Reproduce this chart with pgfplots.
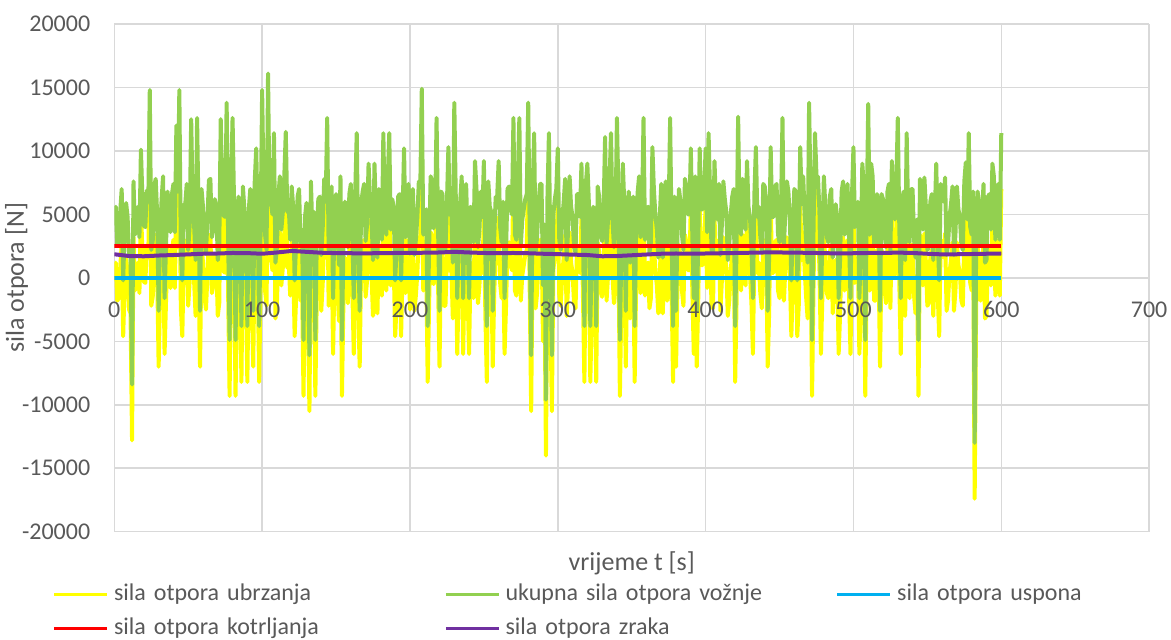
\documentclass[border=0pt]{standalone}
\usepackage{pgfplots}
\usepackage{pgfplotstable}
\pgfplotsset{compat=1.18}
\usepackage{fontspec}
\setmainfont{Carlito}

\definecolor{cUbrz}{HTML}{FFFF00}
\definecolor{cUkup}{HTML}{92D050}
\definecolor{cUspon}{HTML}{00B0F0}
\definecolor{cKotr}{HTML}{FF0000}
\definecolor{cZrak}{HTML}{7030A0}
\definecolor{gridgray}{HTML}{D9D9D9}
\definecolor{labelgray}{HTML}{595959}

% tick labels above the plotted lines, grid below them
\pgfplotsset{
    layers/labelsontop/.define layer set={
        axis background,axis grid,axis ticks,axis lines,main,
        axis tick labels,axis descriptions,axis foreground
    }{/pgfplots/layers/standard},
}

% t, sila otpora ubrzanja (a), ukupna sila otpora voznje (u)
\pgfplotstableread{
t a u
0 0 4400
1 1200 5600
2 -1800 2600
3 -1600 2800
4 800 5200
5 2600 7000
6 -4600 -200
7 -600 3800
8 1500 5900
9 400 4800
10 -2500 1900
11 -2800 1600
12 -12800 -8400
13 3200 7600
14 -1000 3400
15 800 5200
16 1200 5600
17 -1200 3200
18 5700 10100
19 2000 6400
20 -300 4100
21 -400 4000
22 2500 6900
23 1600 6000
24 10400 14800
25 -2200 2200
26 -1500 2900
27 2800 7200
28 3400 7800
29 600 5000
30 -7000 -2600
31 -1000 3400
32 1800 6200
33 3600 8000
34 -6000 -1600
35 -1800 2600
36 2400 6800
37 1000 5400
38 -800 3600
39 2200 6600
40 3000 7400
41 -800 3600
42 7600 12000
43 2400 6800
44 10400 14800
45 -2400 2000
46 -4600 -200
47 1400 5800
48 1400 5800
49 3000 7400
50 -2200 2200
51 -200 4200
52 8100 12500
53 1800 6200
54 -300 4100
55 -3000 1400
56 8200 12600
57 600 5000
58 -7000 -2600
59 2600 7000
60 1200 5600
61 -1400 3000
62 -2500 1900
63 200 4600
64 3300 7700
65 3400 7800
66 -1200 3200
67 -600 3800
68 1800 6200
69 1200 5600
70 -3000 1400
71 -2000 2400
72 8100 12500
73 2200 6600
74 500 4900
75 400 4800
76 9400 13800
77 -1200 3200
78 -9300 -4900
79 3000 7400
80 8200 12600
81 1600 6000
82 -9300 -4900
83 -2600 1800
84 2000 6400
85 400 4800
86 -8200 -3800
87 2800 7200
88 1000 5400
89 -1000 3400
90 -8200 -3800
91 1000 5400
92 2600 7000
93 -1800 2600
94 -7000 -2600
95 3200 7600
96 5800 10200
97 200 4600
98 -8200 -3800
99 -400 4000
100 10400 14800
101 2400 6800
102 -1000 3400
103 -2200 2200
104 11700 16100
105 1400 5800
106 1500 5900
107 600 5000
108 7000 11400
109 -3200 1200
110 -2000 2400
111 2000 6400
112 3600 8000
113 -600 3800
114 800 5200
115 3600 8000
116 7100 11500
117 800 5200
118 1200 5600
119 -1400 3000
120 2800 7200
121 1200 5600
122 -4600 -200
123 -1600 2800
124 2000 6400
125 2600 7000
126 -1800 2600
127 -600 3800
128 -9300 -4900
129 400 4800
130 1500 5900
131 -2800 1600
132 -10500 -6100
133 3200 7600
134 -800 3600
135 800 5200
136 -9300 -4900
137 -1200 3200
138 1800 6200
139 2000 6400
140 -2600 1800
141 -400 4000
142 3400 7800
143 1600 6000
144 8200 12600
145 -2200 2200
146 -1200 3200
147 2800 7200
148 -6000 -1600
149 600 5000
150 2200 6600
151 -1000 3400
152 -3400 1000
153 3600 8000
154 -9300 -4900
155 -1800 2600
156 1600 6000
157 1000 5400
158 -2000 2400
159 2200 6600
160 3000 7400
161 -800 3600
162 -6000 -1600
163 2400 6800
164 7000 11400
165 -2400 2000
166 -7000 -2600
167 1400 5800
168 2400 6800
169 3000 7400
170 -1500 2900
171 -200 4200
172 4600 9000
173 1800 6200
174 300 4700
175 -3000 1400
176 4600 9000
177 600 5000
178 -2800 1600
179 2600 7000
180 1400 5800
181 -1400 3000
182 7000 11400
183 200 4600
184 -1000 3400
185 3400 7800
186 7000 11400
187 -600 3800
188 1800 6200
189 1200 5600
190 -4600 -200
191 -2000 2400
192 2000 6400
193 2200 6600
194 -4600 -200
195 400 4800
196 5800 10200
197 -1200 3200
198 600 5000
199 3000 7400
200 -2500 1900
201 1600 6000
202 2600 7000
203 -2600 1800
204 -1400 3000
205 400 4800
206 3200 7600
207 2800 7200
208 10500 14900
209 -1000 3400
210 400 4800
211 1000 5400
212 -8200 -3800
213 -1800 2600
214 3600 8000
215 3200 7600
216 -500 3900
217 200 4600
218 8200 12600
219 -400 4000
220 -7000 -2600
221 2400 6800
222 2200 6600
223 -2200 2200
224 -2200 2200
225 1400 5800
226 5900 10300
227 600 5000
228 800 5200
229 -3200 1200
230 9400 13800
231 2000 6400
232 -6000 -1600
233 -600 3800
234 1600 6000
235 3600 8000
236 -6000 -1600
237 800 5200
238 3000 7400
239 -1400 3000
240 -6000 -1600
241 1200 5600
242 1000 5400
243 -1600 2800
244 4800 9200
245 2600 7000
246 -2000 2400
247 -600 3800
248 2400 6800
249 400 4800
250 4800 9200
251 -2800 1600
252 -8200 -3800
253 3200 7600
254 1200 5600
255 800 5200
256 -7000 -2600
257 -1200 3200
258 2000 6400
259 2000 6400
260 4800 9200
261 -400 4000
262 -1600 2800
263 1600 6000
264 -6000 -1600
265 -2200 2200
266 2600 7000
267 2800 7200
268 1000 5400
269 600 5000
270 8200 12600
271 -1000 3400
272 -1400 3000
273 3600 8000
274 8200 12600
275 -1800 2600
276 200 4600
277 1000 5400
278 1800 6200
279 2200 6600
280 9400 13800
281 -800 3600
282 -10500 -6100
283 2400 6800
284 7000 11400
285 -2400 2000
286 -1200 3200
287 1400 5800
288 3000 7400
289 3000 7400
290 -5000 -600
291 -200 4200
292 -14000 -9600
293 1800 6200
294 7000 11400
295 -3000 1400
296 -10500 -6100
297 600 5000
298 1800 6200
299 2600 7000
300 5800 10200
301 -1400 3000
302 -2200 2200
303 200 4600
304 1600 6000
305 3400 7800
306 -3000 1400
307 -600 3800
308 3600 8000
309 1200 5600
310 400 4800
311 -2000 2400
312 -2400 2000
313 2200 6600
314 2200 6600
315 400 4800
316 4600 9000
317 -1200 3200
318 -8200 -3800
319 3000 7400
320 4600 9000
321 1600 6000
322 -8200 -3800
323 -2600 1800
324 1200 5600
325 400 4800
326 -8200 -3800
327 2800 7200
328 2000 6400
329 -1000 3400
330 -1500 2900
331 1000 5400
332 6700 11100
333 -1800 2600
334 200 4600
335 3200 7600
336 7000 11400
337 200 4600
338 -2000 2400
339 -400 4000
340 8200 12600
341 2400 6800
342 -9300 -4900
343 -2200 2200
344 4600 9000
345 1400 5800
346 -7000 -2600
347 600 5000
348 2400 6800
349 -3200 1200
350 -800 3600
351 2000 6400
352 -8200 -3800
353 -600 3800
354 2300 6700
355 3600 8000
356 -1200 3200
357 800 5200
358 8200 12600
359 -1400 3000
360 1000 5400
361 1200 5600
362 -2400 2000
363 -1600 2800
364 5900 10300
365 2600 7000
366 600 5000
367 -600 3800
368 -2800 1600
369 400 4800
370 3000 7400
371 -2800 1600
372 800 5200
373 3200 7600
374 -1800 2600
375 800 5200
376 8200 12600
377 -1200 3200
378 -8200 -3800
379 2000 6400
380 -7000 -2600
381 -400 4000
382 2600 7000
383 1600 6000
384 -1000 3400
385 -2200 2200
386 3400 7800
387 2800 7200
388 600 5000
389 600 5000
390 5800 10200
391 -1000 3400
392 -6000 -1600
393 3600 8000
394 -7000 -2600
395 -1800 2600
396 5800 10200
397 1000 5400
398 1000 5400
399 2200 6600
400 5800 10200
401 -800 3600
402 7000 11400
403 2400 6800
404 -2200 2200
405 -2400 2000
406 4800 9200
407 1400 5800
408 200 4600
409 3000 7400
410 -2600 1800
411 -200 4200
412 3200 7600
413 1800 6200
414 800 5200
415 -3000 1400
416 -1800 2600
417 600 5000
418 2000 6400
419 2600 7000
420 -8200 -3800
421 -1400 3000
422 8300 12700
423 200 4600
424 -1000 3400
425 3400 7800
426 2600 7000
427 -600 3800
428 4800 9200
429 1200 5600
430 400 4800
431 -2000 2400
432 -6000 -1600
433 2200 6600
434 5900 10300
435 400 4800
436 1200 5600
437 -1200 3200
438 -2400 2000
439 3000 7400
440 2800 7200
441 1600 6000
442 -7000 -2600
443 -2600 1800
444 5900 10300
445 400 4800
446 400 4800
447 2800 7200
448 3000 7400
449 -1000 3400
450 -1600 2800
451 1000 5400
452 8200 12600
453 -1800 2600
454 1000 5400
455 3200 7600
456 2400 6800
457 200 4600
458 -4600 -200
459 -400 4000
460 2600 7000
461 2400 6800
462 -4600 -200
463 -2200 2200
464 5900 10300
465 1400 5800
466 3600 8000
467 600 5000
468 -1500 2900
469 -3200 1200
470 9400 13800
471 2000 6400
472 -9300 -4900
473 -600 3800
474 7000 11400
475 3600 8000
476 3600 8000
477 800 5200
478 -6000 -1600
479 -1400 3000
480 3600 8000
481 1200 5600
482 -1200 3200
483 -1600 2800
484 2000 6400
485 2600 7000
486 -2800 1600
487 -600 3800
488 1400 5800
489 400 4800
490 -6000 -1600
491 -2800 1600
492 2400 6800
493 3200 7600
494 -1000 3400
495 800 5200
496 3000 7400
497 -1200 3200
498 -6000 -1600
499 2000 6400
500 5900 10300
501 -400 4000
502 400 4800
503 1600 6000
504 -6000 -1600
505 -2200 2200
506 4600 9000
507 2800 7200
508 -9300 -4900
509 600 5000
510 9300 13700
511 -1000 3400
512 4600 9000
513 3600 8000
514 -1800 2600
515 -1800 2600
516 2200 6600
517 1000 5400
518 -7000 -2600
519 2200 6600
520 1800 6200
521 -800 3600
522 -2000 2400
523 2400 6800
524 3000 7400
525 -2400 2000
526 4800 9200
527 1400 5800
528 200 4600
529 3000 7400
530 8200 12600
531 -200 4200
532 -6000 -1600
533 1800 6200
534 2400 6800
535 -3000 1400
536 7000 11400
537 600 5000
538 -1600 2800
539 2600 7000
540 2600 7000
541 -1400 3000
542 -2800 1600
543 200 4600
544 -9300 -4900
545 3400 7800
546 1800 6200
547 -600 3800
548 3500 7900
549 1200 5600
550 -2200 2200
551 -2000 2400
552 1600 6000
553 2200 6600
554 -3000 1400
555 400 4800
556 4600 9000
557 -1200 3200
558 -4600 -200
559 3000 7400
560 2000 6400
561 1600 6000
562 3500 7900
563 -2600 1800
564 -1800 2600
565 400 4800
566 1400 5800
567 2800 7200
568 -2600 1800
569 -1000 3400
570 2800 7200
571 1000 5400
572 400 4800
573 -1800 2600
574 -2200 2200
575 3200 7600
576 4700 9100
577 200 4600
578 7000 11400
579 -400 4000
580 -1000 3400
581 2400 6800
582 -17400 -13000
583 -2200 2200
584 2400 6800
585 1400 5800
586 -1800 2600
587 600 5000
588 3000 7400
589 -3200 1200
590 -3000 1400
591 2000 6400
592 2200 6600
593 -600 3800
594 4600 9000
595 3600 8000
596 -1400 3000
597 800 5200
598 3000 7400
599 -1400 3000
600 7000 11400
}\voznja

% sila otpora zraka
\pgfplotstableread{
t z
0 1860
10 1720
20 1700
30 1760
40 1800
50 1850
60 1900
70 1920
80 1960
90 1950
100 1900
110 2000
120 2120
130 2050
140 1980
150 1950
160 1940
170 1930
180 1950
190 1960
200 1970
210 1980
220 2000
230 2050
240 2000
250 1960
260 1950
270 1960
280 1940
290 1900
300 1870
310 1830
320 1800
330 1700
340 1720
350 1780
360 1840
370 1900
380 1920
390 1900
400 1920
410 1940
420 1960
430 1980
440 2000
450 2000
460 1990
470 1970
480 1950
490 1920
500 1940
510 1960
520 1960
530 1990
540 1960
550 1900
560 1850
570 1860
580 1880
590 1900
600 1920
}\zrak

\begin{document}
\begin{tikzpicture}
\begin{axis}[
    at={(0,0)}, anchor=south west,
    set layers=labelsontop,
    scale only axis,
    width=517.4pt, height=253.85pt,
    xmin=0, xmax=700, ymin=-20000, ymax=20000,
    scaled ticks=false,
    xtick={0,100,200,300,400,500,600,700},
    xticklabels={0,100,200,300,400,500,600,700},
    ytick={-20000,-15000,-10000,-5000,0,5000,10000,15000,20000},
    yticklabels={-20000,-15000,-10000,-5000,0,5000,10000,15000,20000},
    grid=major,
    grid style={draw=gridgray, line width=0.75pt},
    axis line style={draw=none},
    tick style={draw=none},
    ticklabel style={font=\fontsize{12}{14}\selectfont, text=labelgray},
    xticklabel style={anchor=center, yshift=110.9pt},
    yticklabel style={anchor=east, xshift=-8.5pt},
    xlabel={vrijeme t [s]},
    xlabel style={at={(axis description cs:0.5,0)}, anchor=center, yshift=-16pt,
        font=\fontsize{13}{15}\selectfont, text=labelgray},
    ylabel={sila otpora [N]},
    ylabel style={at={(axis description cs:-0.0945,0.5)}, anchor=center,
        font=\fontsize{13}{15}\selectfont, text=labelgray},
    legend columns=3,
    legend cell align=left,
    legend image code/.code={\draw[#1, line width=1.8pt] (0pt,0pt) -- (26.5pt,0pt);},
    legend style={at={(axis description cs:-0.0602,-0.0892)}, anchor=north west,
        draw=none, fill=none, inner sep=0pt,
        font=\fontsize{12}{14}\selectfont, text=labelgray,
        /tikz/every even column/.append style={column sep=0pt},
        nodes={text width=162.5pt, inner xsep=2.5pt, text height=8.5pt, text depth=2.5pt, inner ysep=3pt}},
    every axis plot/.append style={line width=2pt, line join=round},
]
\addplot[cUbrz] table[x=t, y=a] {\voznja};
\addlegendentry{sila otpora ubrzanja}
\addplot[cUkup] table[x=t, y=u] {\voznja};
\addlegendentry{ukupna sila otpora vožnje}
\addplot[cUspon] coordinates {(0,0) (600,0)};
\addlegendentry{sila otpora uspona}
\addplot[cKotr] coordinates {(0,2500) (600,2500)};
\addlegendentry{sila otpora kotrljanja}
\addplot[cZrak] table[x=t, y=z] {\zrak};
\addlegendentry{sila otpora zraka}
\end{axis}
\pgfresetboundingbox
\path[use as bounding box] (-57.15pt,-53.65pt) rectangle (528.35pt,265.85pt);
\end{tikzpicture}
\end{document}
